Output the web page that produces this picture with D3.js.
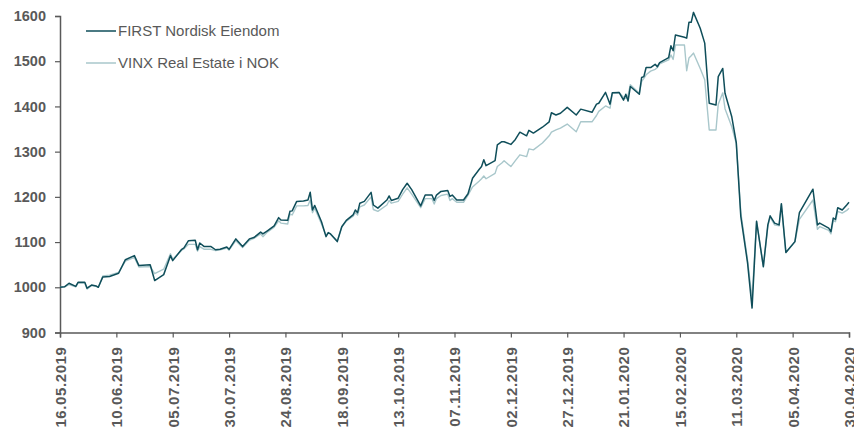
<!DOCTYPE html>
<html>
<head>
<meta charset="utf-8">
<script src="https://cdn.jsdelivr.net/npm/d3@7"></script>
<style>
  html, body { margin: 0; padding: 0; background: #ffffff; }
  svg { display: block; }
  text { font-family: "Liberation Sans", Arial, sans-serif; fill: #595959; }
</style>
</head>
<body>
<svg id="chart" width="854" height="433"></svg>
<script>
// Observation dates (indexed at 1000 on 16.05.2019)
const dates = [
  "2019-05-16","2019-05-18","2019-05-20","2019-05-23","2019-05-24","2019-05-27","2019-05-28","2019-05-30",
  "2019-06-01","2019-06-02","2019-06-04","2019-06-07","2019-06-11","2019-06-14","2019-06-18","2019-06-20",
  "2019-06-25","2019-06-27","2019-07-01","2019-07-04","2019-07-05","2019-07-09","2019-07-10","2019-07-12",
  "2019-07-15","2019-07-16","2019-07-17","2019-07-19","2019-07-22","2019-07-24","2019-07-26","2019-07-29",
  "2019-07-30","2019-08-02","2019-08-05","2019-08-08","2019-08-10","2019-08-13","2019-08-14","2019-08-16",
  "2019-08-19","2019-08-21","2019-08-22","2019-08-25","2019-08-26","2019-08-27","2019-08-29","2019-09-01",
  "2019-09-03","2019-09-04","2019-09-05","2019-09-06","2019-09-09","2019-09-11","2019-09-12","2019-09-13",
  "2019-09-16","2019-09-18","2019-09-20","2019-09-23","2019-09-24","2019-09-25","2019-09-26","2019-09-28",
  "2019-10-01","2019-10-02","2019-10-04","2019-10-08","2019-10-09","2019-10-10","2019-10-13","2019-10-15",
  "2019-10-17","2019-10-19","2019-10-23","2019-10-25","2019-10-28","2019-10-29","2019-10-30","2019-11-01",
  "2019-11-04","2019-11-05","2019-11-06","2019-11-08","2019-11-11","2019-11-13","2019-11-15","2019-11-18",
  "2019-11-19","2019-11-20","2019-11-21","2019-11-25","2019-11-26","2019-11-28","2019-11-29","2019-12-02",
  "2019-12-04","2019-12-06","2019-12-09","2019-12-10","2019-12-12","2019-12-16","2019-12-19","2019-12-20",
  "2019-12-22","2019-12-24","2019-12-27","2019-12-31","2020-01-02","2020-01-07","2020-01-09","2020-01-10",
  "2020-01-13","2020-01-15","2020-01-16","2020-01-19","2020-01-21","2020-01-22","2020-01-23","2020-01-24",
  "2020-01-28","2020-01-29","2020-01-30","2020-01-31","2020-02-02","2020-02-04","2020-02-05","2020-02-06",
  "2020-02-09","2020-02-10","2020-02-11","2020-02-12","2020-02-13","2020-02-17","2020-02-18","2020-02-19",
  "2020-02-20","2020-02-21","2020-02-24","2020-02-26","2020-02-28","2020-03-02","2020-03-03","2020-03-05",
  "2020-03-06","2020-03-09","2020-03-11","2020-03-13","2020-03-16","2020-03-18","2020-03-20","2020-03-23",
  "2020-03-25","2020-03-26","2020-03-28","2020-03-30","2020-03-31","2020-04-02","2020-04-06","2020-04-08",
  "2020-04-14","2020-04-16","2020-04-17","2020-04-21","2020-04-22","2020-04-23","2020-04-24","2020-04-25",
  "2020-04-27","2020-04-29","2020-04-30"
];

// FIRST Nordisk Eiendom
const firstNordisk = [
  1000,1001,1009,1002,1011,1011,998,1005,1003,1000,1023,1024,1031,1061,1070,1048,
  1050,1015,1028,1070,1059,1084,1087,1103,1104,1083,1098,1090,1090,1083,1084,1089,
  1084,1107,1090,1107,1110,1122,1118,1125,1136,1154,1149,1148,1168,1169,1190,1191,
  1193,1210,1171,1181,1145,1112,1121,1118,1101,1134,1148,1160,1171,1165,1186,1190,
  1210,1182,1175,1193,1202,1192,1197,1216,1230,1216,1180,1204,1204,1192,1204,1212,
  1214,1201,1204,1193,1193,1207,1241,1261,1267,1282,1269,1280,1315,1322,1322,1316,
  1327,1343,1335,1347,1341,1354,1366,1386,1381,1385,1398,1381,1394,1387,1405,1407,
  1431,1405,1430,1431,1414,1427,1412,1444,1427,1464,1466,1486,1486,1493,1488,1497,
  1505,1508,1534,1523,1558,1553,1551,1586,1586,1608,1573,1540,1407,1403,1466,1484,
  1429,1377,1320,1157,1054,954,1146,1046,1138,1158,1142,1138,1185,1077,1101,1165,
  1217,1138,1142,1131,1123,1153,1150,1176,1171,1182,1188
];

// VINX Real Estate i NOK
const vinxRealEstate = [
  1000,1001,1006,1001,1009,1009,996,1004,1002,1000,1025,1027,1033,1058,1066,1045,
  1046,1030,1040,1074,1062,1082,1085,1095,1095,1080,1090,1084,1084,1081,1083,1087,
  1082,1103,1088,1104,1108,1118,1112,1122,1133,1147,1142,1140,1162,1160,1180,1180,
  1181,1193,1165,1175,1140,1115,1120,1118,1103,1134,1146,1157,1165,1160,1178,1182,
  1200,1172,1168,1182,1192,1186,1190,1206,1220,1206,1176,1196,1196,1184,1196,1203,
  1206,1192,1196,1188,1188,1204,1222,1235,1240,1246,1240,1252,1267,1275,1280,1267,
  1280,1293,1289,1306,1304,1319,1335,1343,1348,1352,1361,1344,1366,1366,1380,1389,
  1401,1396,1429,1431,1420,1418,1425,1448,1429,1455,1462,1470,1478,1482,1486,1494,
  1501,1503,1514,1504,1536,1536,1479,1507,1512,1518,1484,1459,1348,1348,1405,1430,
  1395,1355,1318,1166,1060,975,1146,1044,1135,1155,1138,1136,1183,1077,1100,1150,
  1193,1128,1134,1126,1118,1148,1145,1168,1164,1170,1175
];

const seriesNames = ["FIRST Nordisk Eiendom", "VINX Real Estate i NOK"];
const seriesColors = ["#0f4e5a", "#a9c7cb"];

const xTickLabels = [
  "16.05.2019","10.06.2019","05.07.2019","30.07.2019","24.08.2019","18.09.2019","13.10.2019",
  "07.11.2019","02.12.2019","27.12.2019","21.01.2020","15.02.2020","11.03.2020","05.04.2020","30.04.2020"
];
const yTicks = [900, 1000, 1100, 1200, 1300, 1400, 1500, 1600];

const parseISO = d3.timeParse("%Y-%m-%d");
const parseLabel = d3.timeParse("%d.%m.%Y");
const fmtLabel = d3.timeFormat("%d.%m.%Y");

const svg = d3.select("#chart");
const plotLeft = 60, plotRight = 849, plotTop = 16, plotBottom = 332.5;

const x = d3.scaleTime()
  .domain([parseLabel(xTickLabels[0]), parseLabel(xTickLabels[xTickLabels.length - 1])])
  .range([plotLeft, plotRight]);
const y = d3.scaleLinear().domain([900, 1600]).range([plotBottom, plotTop]);

const axisColor = "#595959";

// Y axis
const gy = svg.append("g")
  .attr("transform", `translate(${plotLeft},0)`)
  .call(d3.axisLeft(y).tickValues(yTicks).tickSize(5).tickPadding(9).tickFormat(d3.format("d")));
gy.select(".domain").attr("stroke", axisColor).attr("stroke-width", 1.5);
gy.selectAll(".tick line").attr("stroke", axisColor).attr("stroke-width", 1.2);
gy.selectAll(".tick text")
  .attr("fill", axisColor)
  .style("font-size", "14.5px")
  .style("font-weight", "bold")
  .style("font-family", "'Liberation Sans', Arial, sans-serif");

// X axis
const gx = svg.append("g")
  .attr("transform", `translate(0,${plotBottom})`)
  .call(d3.axisBottom(x).tickValues(xTickLabels.map(parseLabel)).tickSize(5).tickFormat(fmtLabel));
gx.select(".domain").attr("stroke", axisColor).attr("stroke-width", 1.5);
gx.selectAll(".tick line").attr("stroke", axisColor).attr("stroke-width", 1.2);
gx.selectAll(".tick text")
  .attr("fill", axisColor)
  .attr("transform", "rotate(-90)")
  .attr("x", -14)
  .attr("y", 0)
  .attr("dy", "0.36em")
  .attr("text-anchor", "end")
  .style("font-size", "15px")
  .style("font-weight", "bold")
  .style("letter-spacing", "0.6px")
  .style("font-family", "'Liberation Sans', Arial, sans-serif");

// Lines
const rows = dates.map((d, i) => ({ date: parseISO(d), a: firstNordisk[i], b: vinxRealEstate[i] }));
const lineA = d3.line().x(d => x(d.date)).y(d => y(d.a));
const lineB = d3.line().x(d => x(d.date)).y(d => y(d.b));

svg.append("path").datum(rows)
  .attr("fill", "none").attr("stroke", seriesColors[1]).attr("stroke-width", 1.4)
  .attr("stroke-linejoin", "round").attr("d", lineB);
svg.append("path").datum(rows)
  .attr("fill", "none").attr("stroke", seriesColors[0]).attr("stroke-width", 1.5)
  .attr("stroke-linejoin", "round").attr("d", lineA);

// Legend
const legend = svg.append("g").attr("transform", "translate(86,31)");
seriesNames.forEach((name, i) => {
  const g = legend.append("g").attr("transform", `translate(0,${i * 32})`);
  g.append("line").attr("x1", 0).attr("x2", 30).attr("y1", 0).attr("y2", 0)
    .attr("stroke", seriesColors[i]).attr("stroke-width", 1.5);
  g.append("text").attr("x", 32).attr("y", 0).attr("dy", "0.36em")
    .style("font-size", "15px").text(name);
});
</script>
</body>
</html>
